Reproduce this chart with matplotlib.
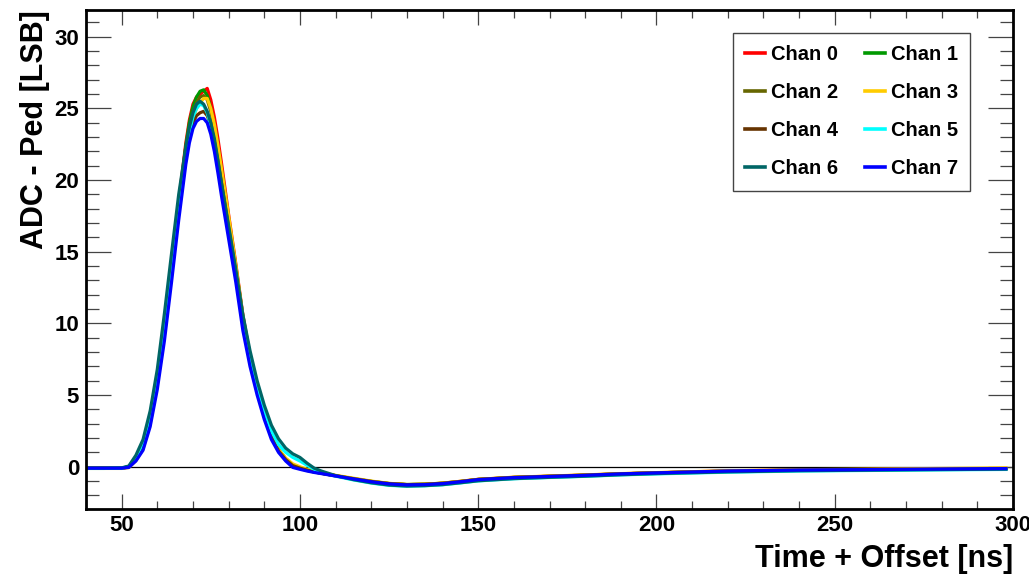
import matplotlib
matplotlib.use("Agg")
import matplotlib.pyplot as plt

# sample times [ns]
t = [40, 45, 50, 52, 54, 56, 58, 60, 62, 64, 66, 68, 69, 70, 71, 72, 73, 74, 75, 76,
     77, 78, 80, 82, 84, 86, 88, 90, 92, 94, 96, 98, 100, 102, 104, 106, 110, 115, 120,
     125, 130, 135, 140, 145, 150, 160, 170, 180, 190, 200, 220, 240, 260, 280, 298]

chan0 = [-0.10, -0.10, -0.10, 0.00, 0.60, 1.60, 3.50, 6.30, 10.00, 14.20, 18.50, 22.60, 24.20, 25.30,
         25.80, 26.00, 26.20, 26.40, 25.60, 24.40, 22.90, 21.20, 17.60, 14.20, 10.60, 7.80, 5.60, 3.70,
         2.20, 1.20, 0.55, 0.10, -0.10, -0.20, -0.32, -0.42, -0.62, -0.84, -1.03, -1.18, -1.25, -1.23,
         -1.15, -1.02, -0.88, -0.74, -0.66, -0.58, -0.49, -0.42, -0.29, -0.22, -0.19, -0.15, -0.12]
chan1 = [-0.10, -0.10, -0.10, 0.00, 0.55, 1.50, 3.35, 6.10, 9.80, 14.00, 18.30, 22.40, 24.00, 25.10,
         25.80, 26.20, 26.30, 25.90, 25.00, 23.80, 22.30, 20.70, 17.30, 14.00, 10.50, 7.70, 5.50, 3.70,
         2.20, 1.20, 0.55, 0.10, -0.10, -0.25, -0.36, -0.45, -0.63, -0.83, -1.02, -1.17, -1.24, -1.22,
         -1.15, -1.03, -0.89, -0.75, -0.67, -0.59, -0.50, -0.43, -0.31, -0.24, -0.21, -0.17, -0.14]
chan2 = [-0.10, -0.10, -0.10, -0.02, 0.50, 1.40, 3.20, 5.90, 9.50, 13.70, 18.00, 22.00, 23.60, 24.70,
         25.40, 25.80, 25.90, 25.60, 24.80, 23.60, 22.10, 20.40, 17.10, 13.80, 10.30, 7.60, 5.40, 3.60,
         2.15, 1.15, 0.50, 0.05, -0.12, -0.26, -0.37, -0.46, -0.64, -0.84, -1.03, -1.18, -1.25, -1.23,
         -1.16, -1.04, -0.89, -0.75, -0.67, -0.59, -0.50, -0.43, -0.31, -0.24, -0.20, -0.17, -0.14]
chan3 = [-0.12, -0.12, -0.12, -0.06, 0.42, 1.25, 3.00, 5.70, 9.20, 13.40, 17.70, 21.60, 23.20, 24.30,
         25.00, 25.40, 25.70, 25.70, 25.00, 23.90, 22.40, 20.80, 17.50, 14.10, 10.50, 7.70, 5.50, 3.70,
         2.20, 1.20, 0.60, 0.20, 0.00, -0.18, -0.32, -0.44, -0.60, -0.80, -1.00, -1.16, -1.24, -1.22,
         -1.14, -1.02, -0.88, -0.73, -0.65, -0.57, -0.48, -0.41, -0.28, -0.21, -0.17, -0.12, -0.08]
chan4 = [-0.10, -0.10, -0.10, -0.02, 0.50, 1.40, 3.20, 5.90, 9.40, 13.50, 17.70, 21.50, 23.00, 24.00,
         24.50, 24.70, 24.80, 24.50, 23.80, 22.70, 21.30, 19.80, 16.70, 13.50, 10.10, 7.40, 5.30, 3.50,
         2.10, 1.10, 0.50, 0.08, -0.10, -0.24, -0.35, -0.45, -0.63, -0.84, -1.03, -1.18, -1.25, -1.23,
         -1.16, -1.04, -0.89, -0.75, -0.67, -0.59, -0.50, -0.43, -0.31, -0.24, -0.20, -0.17, -0.14]
chan5 = [-0.12, -0.12, -0.10, 0.02, 0.65, 1.70, 3.60, 6.40, 10.10, 14.30, 18.40, 22.00, 23.40, 24.40,
         25.00, 25.30, 25.20, 24.70, 23.80, 22.60, 21.10, 19.50, 16.50, 13.50, 10.30, 7.70, 5.60, 3.90,
         2.50, 1.55, 1.00, 0.65, 0.40, 0.10, -0.18, -0.38, -0.66, -0.92, -1.14, -1.30, -1.36, -1.33,
         -1.26, -1.13, -0.99, -0.84, -0.75, -0.67, -0.57, -0.50, -0.38, -0.30, -0.26, -0.22, -0.19]
chan6 = [-0.10, -0.10, -0.08, 0.05, 0.80, 1.90, 3.90, 6.80, 10.70, 14.90, 19.00, 22.30, 23.70, 24.70,
         25.30, 25.50, 25.30, 24.80, 24.00, 22.90, 21.40, 19.80, 16.80, 13.80, 10.60, 8.10, 6.00, 4.30,
         2.90, 1.95, 1.30, 0.90, 0.65, 0.25, -0.10, -0.30, -0.62, -0.90, -1.12, -1.28, -1.35, -1.32,
         -1.25, -1.12, -0.98, -0.83, -0.74, -0.66, -0.56, -0.48, -0.36, -0.28, -0.24, -0.20, -0.17]
chan7 = [-0.10, -0.10, -0.10, -0.05, 0.40, 1.15, 2.80, 5.40, 8.80, 12.90, 17.20, 21.10, 22.60, 23.60,
         24.10, 24.30, 24.30, 24.00, 23.20, 22.00, 20.50, 18.90, 15.90, 12.90, 9.50, 7.00, 5.00, 3.30,
         1.90, 1.00, 0.40, -0.05, -0.18, -0.30, -0.40, -0.48, -0.65, -0.85, -1.05, -1.20, -1.27, -1.25,
         -1.18, -1.05, -0.90, -0.76, -0.68, -0.60, -0.50, -0.43, -0.30, -0.23, -0.20, -0.16, -0.13]

channels = [chan0, chan1, chan2, chan3, chan4, chan5, chan6, chan7]
labels = ["Chan 0", "Chan 1", "Chan 2", "Chan 3", "Chan 4", "Chan 5", "Chan 6", "Chan 7"]
colors = ["#ff0000", "#009900", "#666600", "#ffcc00", "#663300", "#00ffff", "#006666", "#0000ff"]

plt.rcParams['font.family'] = ['Liberation Sans', 'DejaVu Sans']
plt.rcParams['font.weight'] = 'bold'

fig = plt.figure(figsize=(10.29, 5.85), dpi=100)
ax = fig.add_axes([86/1029, 1 - 509/585, 927/1029, 499/585])

ax.axhline(0, color='black', lw=0.9, zorder=1)
lines = []
for vals, lab, col in zip(channels, labels, colors):
    ln, = ax.plot(t, vals, color=col, lw=2.3, label=lab, zorder=2)
    lines.append(ln)

ax.set_xlim(40, 300)
ax.set_ylim(-2.95, 31.87)
ax.set_xticks([50, 100, 150, 200, 250, 300])
ax.set_xticks(range(40, 301, 10), minor=True)
ax.set_yticks([0, 5, 10, 15, 20, 25, 30])
ax.set_yticks(range(-2, 32), minor=True)

for s in ax.spines.values():
    s.set_linewidth(2.0)
ax.tick_params(which='both', direction='in', top=True, right=True, width=0.9, color='#444444',
               labelsize=16)
ax.tick_params(axis='x', which='major', length=11, pad=4)
ax.tick_params(axis='x', which='minor', length=5.8)
ax.tick_params(axis='y', which='major', length=18, pad=5)
ax.tick_params(axis='y', which='minor', length=9.4)
for lbl in ax.get_xticklabels() + ax.get_yticklabels():
    lbl.set_fontweight('bold')

ax.set_xlabel("Time + Offset [ns]", fontsize=22, fontweight='bold', loc='right', labelpad=6)
ax.set_ylabel("ADC - Ped [LSB]", fontsize=22, fontweight='bold', loc='top', labelpad=3)

# row-wise legend order (matplotlib fills columns first)
order = [0, 2, 4, 6, 1, 3, 5, 7]
leg = ax.legend([lines[i] for i in order], [labels[i] for i in order], ncol=2,
                loc='upper right', bbox_to_anchor=((970 - 86) / 927, (509 - 33) / 499),
                borderaxespad=0, fontsize=14.5, handlelength=1.0, handletextpad=0.3,
                columnspacing=1.3, labelspacing=0.95, borderpad=0.6, fancybox=False, framealpha=1)
leg.get_frame().set_edgecolor('#444444')
leg.get_frame().set_linewidth(1.0)
for txt in leg.get_texts():
    txt.set_fontweight('bold')
for line in leg.get_lines():
    line.set_linewidth(2.6)

fig.savefig("out.png", dpi=100)
